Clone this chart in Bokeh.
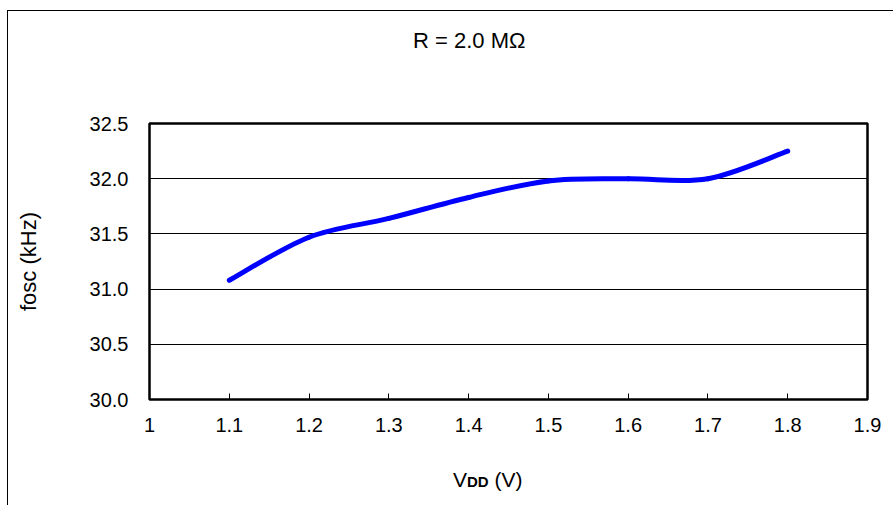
from bokeh.plotting import figure
from bokeh.models import FixedTicker, Range1d, Div
from bokeh.layouts import column
from bokeh.embed import file_html
from bokeh.resources import INLINE

# Data (VDD in V, fosc in kHz)
vdd = [1.1, 1.2, 1.3, 1.4, 1.5, 1.6, 1.7, 1.8]
fosc = [31.08, 31.47, 31.64, 31.83, 31.98, 32.00, 32.00, 32.25]

x_ticks = [1.0, 1.1, 1.2, 1.3, 1.4, 1.5, 1.6, 1.7, 1.8, 1.9]
x_tick_labels = ["1", "1.1", "1.2", "1.3", "1.4", "1.5", "1.6", "1.7", "1.8", "1.9"]
y_ticks = [30.0, 30.5, 31.0, 31.5, 32.0, 32.5]
y_tick_labels = ["30.0", "30.5", "31.0", "31.5", "32.0", "32.5"]

title_text = "R = 2.0 M\u03a9"
y_label_text = "fosc (kHz)"
x_label_html = 'V<b style="font-size:15px">DD</b> (V)'

FONT = "Liberation Sans"

title_div = Div(text=title_text, width=885, height=50,
                styles={"font-family": FONT, "font-size": "22px", "color": "black",
                        "padding-left": "400px", "padding-top": "12px", "line-height": "normal"})

p = figure(width=885, height=384, output_backend="svg", toolbar_location=None,
           x_range=Range1d(1.0, 1.9), y_range=Range1d(30.0, 32.5),
           min_border_left=141, min_border_right=26, min_border_top=52, min_border_bottom=56)
p.background_fill_color = "white"
p.border_fill_color = "white"
p.outline_line_color = "black"
p.outline_line_width = 2.5

p.xgrid.grid_line_color = None
p.ygrid.grid_line_color = "black"
p.ygrid.grid_line_width = 1

p.xaxis.ticker = FixedTicker(ticks=x_ticks)
p.xaxis.major_label_overrides = dict(zip(x_ticks, x_tick_labels))
p.yaxis.ticker = FixedTicker(ticks=y_ticks)
p.yaxis.major_label_overrides = dict(zip(y_ticks, y_tick_labels))

for ax in (p.xaxis, p.yaxis):
    ax.axis_line_color = None
    ax.minor_tick_line_color = None
    ax.major_label_text_font = FONT
    ax.major_label_text_font_size = "20px"
    ax.major_label_text_color = "black"
p.xaxis.major_label_standoff = 18
p.yaxis.major_label_standoff = 21
p.xaxis.major_tick_in = 6
p.xaxis.major_tick_out = 0
p.xaxis.major_tick_line_color = "black"
p.yaxis.major_tick_line_color = None
p.yaxis.major_tick_in = 0
p.yaxis.major_tick_out = 0

p.yaxis.axis_label = y_label_text
p.yaxis.axis_label_text_font = FONT
p.yaxis.axis_label_text_font_size = "22px"
p.yaxis.axis_label_text_font_style = "normal"
p.yaxis.axis_label_text_color = "black"
p.yaxis.axis_label_standoff = 46

# Smoothed line (Excel-style smoothing: cubic Bezier through the data points)
n = len(vdd)
x0, y0, x1, y1, cx0, cy0, cx1, cy1 = [], [], [], [], [], [], [], []
for i in range(n - 1):
    xp, yp = (vdd[i - 1], fosc[i - 1]) if i > 0 else (vdd[i], fosc[i])
    xn, yn = (vdd[i + 2], fosc[i + 2]) if i + 2 < n else (vdd[i + 1], fosc[i + 1])
    x0.append(vdd[i]); y0.append(fosc[i])
    x1.append(vdd[i + 1]); y1.append(fosc[i + 1])
    cx0.append(vdd[i] + (vdd[i + 1] - xp) / 6); cy0.append(fosc[i] + (fosc[i + 1] - yp) / 6)
    cx1.append(vdd[i + 1] - (xn - vdd[i]) / 6); cy1.append(fosc[i + 1] - (yn - fosc[i]) / 6)
p.bezier(x0=x0, y0=y0, x1=x1, y1=y1, cx0=cx0, cy0=cy0, cx1=cx1, cy1=cy1,
         line_color="#0000FF", line_width=5, line_cap="round")

xlabel = Div(text=x_label_html, width=885, height=40,
             styles={"font-family": FONT, "font-size": "21px", "color": "black",
                     "padding-left": "440px", "padding-top": "8px", "line-height": "normal"})

layout = column(title_div, p, xlabel, spacing=0,
                styles={"margin-left": "7px", "margin-top": "10px",
                        "border-left": "1px solid #000", "border-top": "1px solid #000"})

open("out.html", "w").write(file_html(layout, INLINE))
